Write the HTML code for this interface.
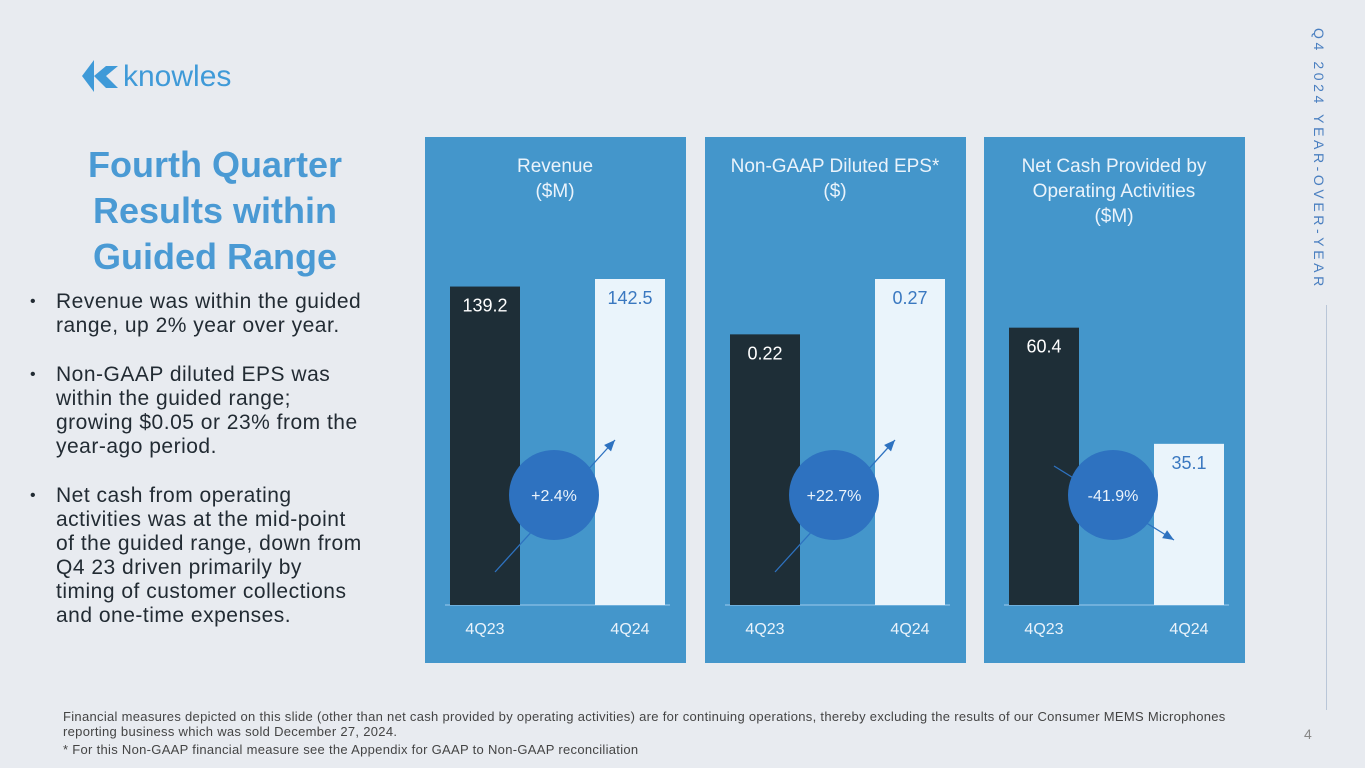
<!DOCTYPE html>
<html><head><meta charset="utf-8"><style>
body{margin:0;width:1365px;height:768px;background:#e8ebf0;font-family:"Liberation Sans",sans-serif;position:relative;overflow:hidden}
.abs{position:absolute}
.title{left:40px;top:142px;width:350px;text-align:center;color:#4a9ad4;font-size:36px;font-weight:bold;line-height:46px}
ul{position:absolute;left:30px;top:290px;width:380px;margin:0;padding:0;list-style:none;color:#222b33;font-size:21px;line-height:24px;letter-spacing:0.5px}
li{position:relative;padding-left:26px;margin-bottom:25px}
li:before{content:"•";position:absolute;left:0;font-size:16px}
.foot{left:63px;color:#444;font-size:13px;letter-spacing:0.3px;line-height:15px}
</style></head><body>
<div class="abs" style="left:80px;top:58px;width:170px;height:40px">
<svg width="40" height="36" style="position:absolute;left:0;top:0"><polygon points="2,18 14,2 14,34" fill="#3f9ad8"/><polygon points="14,18 26,8 38,8 26,18 38,30 26,30" fill="#3f9ad8"/></svg>
<span style="position:absolute;left:43px;top:2px;font-size:30px;color:#3f9ad8">knowles</span>
</div>
<div class="abs title">Fourth Quarter<br>Results within<br>Guided Range</div>
<ul>
<li>Revenue was within the guided<br>range, up 2% year over year.</li>
<li>Non-GAAP diluted EPS was<br>within the guided range;<br>growing $0.05 or 23% from the<br>year-ago period.</li>
<li>Net cash from operating<br>activities was at the mid-point<br>of the guided range, down from<br>Q4 23 driven primarily by<br>timing of customer collections<br>and one-time expenses.</li>
</ul>
<div class="abs" style="left:1311px;top:28px;writing-mode:vertical-rl;font-size:14px;letter-spacing:3.6px;color:#4a7fc0">Q4 2024 YEAR-OVER-YEAR</div>
<div class="abs" style="left:1326px;top:305px;width:1px;height:405px;background:#b9c6d8"></div>
<svg class="abs" id="charts" style="left:0;top:0" width="1365" height="768"></svg>
<div class="abs foot" style="top:709px;width:1260px">Financial measures depicted on this slide (other than net cash provided by operating activities) are for continuing operations, thereby excluding the results of our Consumer MEMS Microphones<br>reporting business which was sold December 27, 2024.</div>
<div class="abs foot" style="top:742px">* For this Non-GAAP financial measure see the Appendix for GAAP to Non-GAAP reconciliation</div>
<div class="abs" style="left:1304px;top:726px;font-size:14px;color:#888">4</div>
<script>
const panelTitles=[["Revenue","($M)"],["Non-GAAP Diluted EPS*","($)"],["Net Cash Provided by","Operating Activities","($M)"]];
const categories=["4Q23","4Q24"];
const prior=[139.2,0.22,60.4];
const current=[142.5,0.27,35.1];
const labelsPrior=["139.2","0.22","60.4"];
const labelsCurrent=["142.5","0.27","35.1"];
const changes=["+2.4%","+22.7%","-41.9%"];
const yMax=[142.5,0.265,71];
const NS="http://www.w3.org/2000/svg";
const svg=document.getElementById('charts');
function mk(t,a,txt){const e=document.createElementNS(NS,t);for(const k in a)e.setAttribute(k,a[k]);if(txt!==undefined)e.textContent=txt;svg.appendChild(e);return e;}
const px=[425,705,984],base=605,H=326;
function y(i,v){return base-Math.min(v/yMax[i],1)*H;}
for(let i=0;i<3;i++){
 const x0=px[i];
 let e=mk('rect',{x:x0,y:137,width:261,height:526,fill:'#4496cb'});
 
 
 panelTitles[i].forEach((t,j)=>{e=mk('text',{x:x0+130,y:172+j*25,'text-anchor':'middle','font-size':19,fill:'#eaf3fb'},t);
 
 });
 mk('line',{x1:x0+20,x2:x0+245,y1:base,y2:base,stroke:'#9ccbec','stroke-width':1});
 const yp=y(i,prior[i]),yc=y(i,current[i]);
 e=mk('rect',{x:x0+25,y:yp,width:70,height:base-yp,fill:'#1e2e37'});
 
 
 e=mk('rect',{x:x0+170,y:yc,width:70,height:base-yc,fill:'#eaf4fb'});
 
 
 mk('text',{x:x0+60,y:yp+25,'text-anchor':'middle','font-size':18,fill:'#fff'},labelsPrior[i]);
 mk('text',{x:x0+205,y:yc+25,'text-anchor':'middle','font-size':18,fill:'#3a78c0'},labelsCurrent[i]);
 mk('text',{x:x0+60,y:634,'text-anchor':'middle','font-size':16,fill:'#eaf3fb'},categories[0]);
 mk('text',{x:x0+205,y:634,'text-anchor':'middle','font-size':16,fill:'#eaf3fb'},categories[1]);
 const up=current[i]>=prior[i];
 const ax1=x0+70,ay1=up?572:466,ax2=x0+190,ay2=up?440:540;
 mk('line',{x1:ax1,y1:ay1,x2:ax2,y2:ay2,stroke:'#2e72c0','stroke-width':1.3});
 const ang=Math.atan2(ay2-ay1,ax2-ax1),L=12;
 mk('polygon',{points:`${ax2},${ay2} ${ax2-L*Math.cos(ang-0.4)},${ay2-L*Math.sin(ang-0.4)} ${ax2-L*Math.cos(ang+0.4)},${ay2-L*Math.sin(ang+0.4)}`,fill:'#2e72c0'});
 e=mk('circle',{cx:x0+129,cy:495,r:45,fill:'#2e72c0'});
 
 
 mk('text',{x:x0+129,y:501,'text-anchor':'middle','font-size':16,fill:'#eaf3fb'},changes[i]);
}
</script>
</body></html>
